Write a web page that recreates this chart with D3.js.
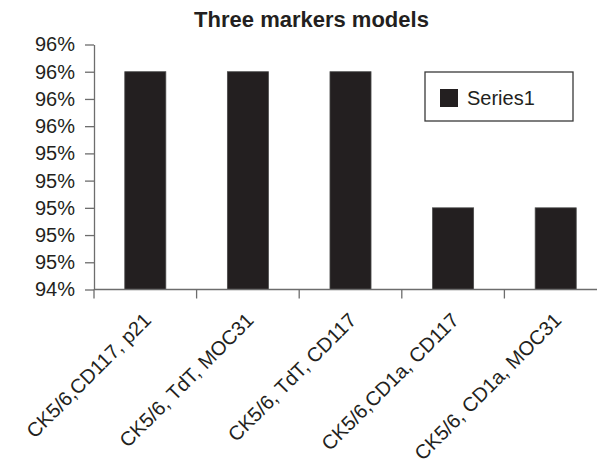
<!DOCTYPE html>
<html>
<head>
<meta charset="utf-8">
<script src="https://cdn.jsdelivr.net/npm/d3@7"></script>
<style>
  html, body { margin: 0; padding: 0; background: #ffffff; }
  svg { display: block; font-family: "Liberation Sans", Arial, sans-serif; }
</style>
</head>
<body>
<svg id="chart" width="597" height="467"></svg>
<script>
// Chart data
const categories = [
  "CK5/6,CD117, p21",
  "CK5/6, TdT, MOC31",
  "CK5/6, TdT, CD117",
  "CK5/6,CD1a, CD117",
  "CK5/6, CD1a, MOC31"
];
const series1 = [96.0, 96.0, 96.0, 95.0, 95.0];
const seriesName = "Series1";
const yTicks = [94.4, 94.6, 94.8, 95.0, 95.2, 95.4, 95.6, 95.8, 96.0, 96.2];
const titleText = "Three markers models";

const svg = d3.select("#chart");
const ink = "#231f20";
const axisColor = "#6d6d6d";

// Plot area
const plotLeft = 94, plotRight = 607, plotTop = 44.5, plotBottom = 289.5;

const x = d3.scaleBand()
  .domain(categories)
  .range([plotLeft, plotRight])
  .paddingInner(0.6)
  .paddingOuter(0.3);

const y = d3.scaleLinear()
  .domain([yTicks[0], yTicks[yTicks.length - 1]])
  .range([plotBottom, plotTop]);

const step = x.step();
const fmt = v => d3.format(".0f")(v) + "%";

// Title
svg.append("text")
  .attr("x", 311.5)
  .attr("y", 27)
  .attr("text-anchor", "middle")
  .attr("font-size", 22)
  .attr("font-weight", "bold")
  .attr("fill", ink)
  .text(titleText);

// Bars
svg.append("g")
  .selectAll("rect")
  .data(series1)
  .join("rect")
  .attr("x", (d, i) => x(categories[i]))
  .attr("y", d => y(d))
  .attr("width", x.bandwidth())
  .attr("height", d => plotBottom - y(d))
  .attr("fill", ink)
  .attr("stroke", "#4a4a4a")
  .attr("stroke-width", 0.8);

// Y axis (ticks point outward to the left)
const yAxis = svg.append("g")
  .attr("transform", `translate(${plotLeft},0)`)
  .call(d3.axisLeft(y).tickValues(yTicks).tickFormat(fmt).tickSize(9).tickSizeOuter(0).tickPadding(10));
yAxis.select(".domain").attr("stroke", axisColor).attr("stroke-width", 1.3);
yAxis.selectAll(".tick line").attr("stroke", axisColor).attr("stroke-width", 1.3);
yAxis.selectAll(".tick text")
  .attr("font-size", 20)
  .attr("fill", ink)
  .attr("font-family", "Liberation Sans, Arial, sans-serif");

// X axis line with ticks between categories
const xAxis = svg.append("g");
xAxis.append("line")
  .attr("x1", plotLeft).attr("x2", plotRight)
  .attr("y1", plotBottom).attr("y2", plotBottom)
  .attr("stroke", axisColor).attr("stroke-width", 1.3);
xAxis.selectAll("line.tick")
  .data(d3.range(categories.length + 1))
  .join("line")
  .attr("class", "tick")
  .attr("x1", i => plotLeft + i * step).attr("x2", i => plotLeft + i * step)
  .attr("y1", plotBottom).attr("y2", plotBottom + 9)
  .attr("stroke", axisColor).attr("stroke-width", 1.3);

// Rotated category labels
xAxis.selectAll("text")
  .data(categories)
  .join("text")
  .attr("transform", d => `translate(${x(d) + x.bandwidth() / 2 + 7},${plotBottom + 32}) rotate(-45)`)
  .attr("text-anchor", "end")
  .attr("font-size", 20)
  .attr("fill", ink)
  .text(d => d);

// Legend
const legend = svg.append("g");
legend.append("rect")
  .attr("x", 425).attr("y", 72)
  .attr("width", 148).attr("height", 49)
  .attr("fill", "#ffffff")
  .attr("stroke", "#3a3a3a")
  .attr("stroke-width", 1.3);
legend.append("rect")
  .attr("x", 440).attr("y", 89)
  .attr("width", 18).attr("height", 18)
  .attr("fill", ink);
legend.append("text")
  .attr("x", 467).attr("y", 105)
  .attr("font-size", 20)
  .attr("fill", ink)
  .text(seriesName);
</script>
</body>
</html>
